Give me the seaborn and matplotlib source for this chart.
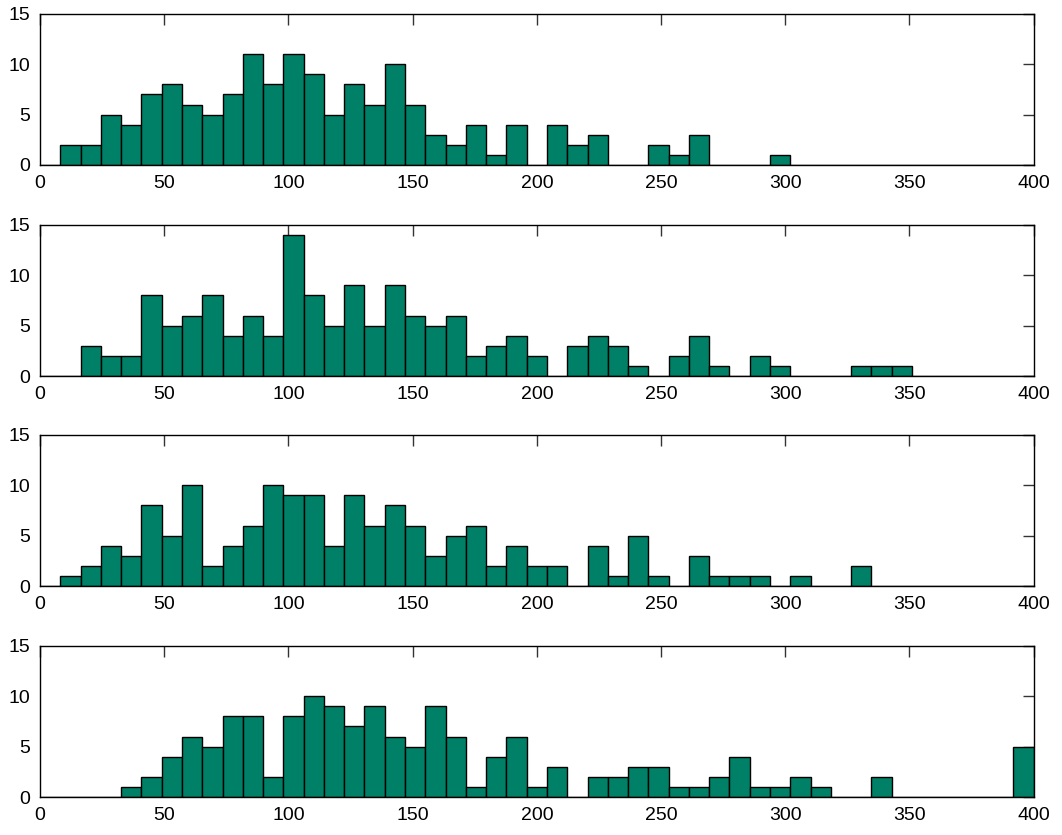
import numpy as np
import pandas as pd
import matplotlib
matplotlib.use("Agg")
import matplotlib.pyplot as plt
import seaborn as sns

# Histogram counts for four samples, 49 equal bins spanning 0..400
counts_a = [0, 2, 2, 5, 4, 7, 8, 6, 5, 7, 11, 8, 11, 9, 5, 8, 6, 10, 6, 3, 2, 4, 1, 4, 0,
            4, 2, 3, 0, 0, 2, 1, 3, 0, 0, 0, 1, 0, 0, 0, 0, 0, 0, 0, 0, 0, 0, 0, 0]
counts_b = [0, 0, 3, 2, 2, 8, 5, 6, 8, 4, 6, 4, 14, 8, 5, 9, 5, 9, 6, 5, 6, 2, 3, 4, 2,
            0, 3, 4, 3, 1, 0, 2, 4, 1, 0, 2, 1, 0, 0, 0, 1, 1, 1, 0, 0, 0, 0, 0, 0]
counts_c = [0, 1, 2, 4, 3, 8, 5, 10, 2, 4, 6, 10, 9, 9, 4, 9, 6, 8, 6, 3, 5, 6, 2, 4, 2,
            2, 0, 4, 1, 5, 1, 0, 3, 1, 1, 1, 0, 1, 0, 0, 2, 0, 0, 0, 0, 0, 0, 0, 0]
counts_d = [0, 0, 0, 0, 1, 2, 4, 6, 5, 8, 8, 2, 8, 10, 9, 7, 9, 6, 5, 9, 6, 1, 4, 6, 1,
            3, 0, 2, 2, 3, 3, 1, 1, 2, 4, 1, 1, 2, 1, 0, 0, 2, 0, 0, 0, 0, 0, 0, 5]

x_range = (0, 400)
n_bins = 49
x_ticks = [0, 50, 100, 150, 200, 250, 300, 350, 400]
y_ticks = [0, 5, 10, 15]

sns.set_theme(style="white")
plt.rcParams["font.family"] = ["Liberation Sans", "DejaVu Sans"]

bin_w = (x_range[1] - x_range[0]) / n_bins
centers = x_range[0] + bin_w * (np.arange(n_bins) + 0.5)

fig = plt.figure(figsize=(10.62, 8.35), dpi=100)
bottoms = [0.8024, 0.5497, 0.2982, 0.0455]
for bottom, counts in zip(bottoms, [counts_a, counts_b, counts_c, counts_d]):
    ax = fig.add_axes([0.0377, bottom, 0.9356, 0.181])
    df = pd.DataFrame({"value": centers, "count": np.asarray(counts, dtype=float)})
    sns.histplot(data=df, x="value", weights="count", bins=n_bins, binrange=x_range,
                 ax=ax, color="#008066", alpha=1, edgecolor="black", linewidth=1.0)
    ax.set_xlim(*x_range)
    ax.set_ylim(0, 15)
    ax.set_xticks(x_ticks)
    ax.set_yticks(y_ticks)
    ax.set_xlabel("")
    ax.set_ylabel("")
    ax.tick_params(direction="in", length=8, width=1, color="#333333",
                   top=True, right=True, labelsize=14, pad=7,
                   labelcolor="black")
    for s in ax.spines.values():
        s.set_visible(True)
        s.set_color("black")
        s.set_linewidth(1.0)
    ax.set_facecolor("white")

fig.savefig("out.png", dpi=100, facecolor="white")
